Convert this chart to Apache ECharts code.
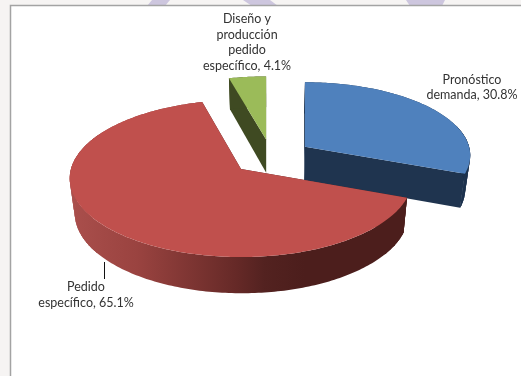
<!DOCTYPE html>
<html>
<head>
<meta charset="utf-8">
<style>html,body{margin:0;padding:0;background:#f6f4f3}#c{width:521px;height:376px}</style>
<script src="https://cdn.jsdelivr.net/npm/echarts@6/dist/echarts.min.js"></script>
</head>
<body>
<div id="c"></div>
<script>
// Shares of the production strategies, in pie order (clockwise from twelve o'clock)
const categories = ['Pronóstico\ndemanda', 'Pedido\nespecífico', 'Diseño y\nproducción\npedido\nespecífico'];
const values = [30.8, 65.1, 4.1];
const topColors = ['#4f81bd', '#c0504d', '#9bbb59'];
const labelAnchors = [[472, 87.5], [86, 295], [247, 42.5]];
const drawOrder = [2, 0, 1];

// Perspective disc: the plane is tilted away from the viewer
const disc = { cx: 241, cy: 169, a: 170, b: 77.4, k: 0.121, explode: 0.24, shrink: 0.975, shrinkAbout: 270 };
const total = values.reduce((s, v) => s + v, 0);
const rad = d => d * Math.PI / 180;

// Start and end angle of every slice, in degrees clockwise from north
let running = 0;
const spans = values.map(v => {
  const s = running;
  running += v / total * 360;
  return [s, running];
});
const mid = i => rad((spans[i][0] + spans[i][1]) / 2);
const pivot = [-disc.explode * Math.sin(mid(1)), -disc.explode * Math.cos(mid(1))];

// A slice keeps its own centre line upright, so only its local offset is foreshortened
function project(ou, ov, du, dv) {
  const v = ov + dv;
  const w = 1 + disc.k * v;
  return [disc.cx + disc.a * (ou + du / w), disc.cy - disc.b * v / w, v];
}

function sliceGeometry(i) {
  const ou = pivot[0] + disc.explode * Math.sin(mid(i));
  const ov = pivot[1] + disc.explode * Math.cos(mid(i));
  const apex = project(ou, ov, 0, 0);
  const rim = [];
  const [s, e] = spans[i];
  const steps = Math.max(8, Math.round(e - s));
  for (let t = 0; t <= steps; t++) {
    const ang = rad(s + (e - s) * t / steps);
    rim.push(project(ou, ov, Math.sin(ang), Math.cos(ang)));
  }
  return { apex, rim };
}
// The underside of the disc sits further from the eye, so it is slightly smaller
const drop = p => [disc.shrinkAbout + (p[0] - disc.shrinkAbout) * disc.shrink, p[1] + 34 - 2.2 * p[2]];
const quad = (a, b) => [a, b, drop(b), drop(a)];

const wallFills = [
  '#1f344f',
  { type: 'linear', x: 70, y: 0, x2: 405, y2: 0, global: true, colorStops: [
    { offset: 0, color: '#aa4f4c' }, { offset: 0.2, color: '#9a4340' },
    { offset: 0.5, color: '#652927' }, { offset: 0.58, color: '#532220' },
    { offset: 0.7, color: '#4c1e1c' }, { offset: 1, color: '#4c1e1c' } ] },
  '#3f4a22'
];

function renderSlice(params, api) {
  const i = drawOrder[params.dataIndex];
  const { apex, rim } = sliceGeometry(i);
  const wall = wallFills[i];
  const flat = typeof wall === 'string' ? wall : '#4c1e1c';
  const children = [
    { type: 'polygon', shape: { points: quad(apex, rim[0]) }, style: { fill: flat } },
    { type: 'polygon', shape: { points: quad(apex, rim[rim.length - 1]) }, style: { fill: flat } },
    { type: 'polygon', shape: { points: rim.concat(rim.slice().reverse().map(drop)) }, style: { fill: wall } }
  ];
  // Near the left and right extremes the wall needs a band per rim segment to keep its silhouette convex
  for (let t = 0; t < rim.length - 1; t++) {
    if (Math.abs(rim[t][2]) < 0.6 && Math.abs(rim[t][0] - disc.cx) > 140) {
      const band = quad(rim[t], rim[t + 1]);
      children.push({ type: 'polygon', shape: { points: band }, style: { fill: wall } });
      children.push({ type: 'polygon', shape: { points: band }, style: { fill: wall } });
    }
  }
  children.push({ type: 'polygon', shape: { points: [apex].concat(rim) }, style: { fill: topColors[i] } });
  return { type: 'group', children };
}

const chart = echarts.init(document.getElementById('c'), null, { renderer: 'canvas' });
const labelStyle = { font: '12.5px Lato, "Open Sans", sans-serif', fill: '#333333', align: 'center', verticalAlign: 'middle', lineHeight: 15.5 };

chart.setOption({
  animation: false,
  backgroundColor: '#f6f4f3',
  graphic: [
    { type: 'polygon', z: 0, shape: { points: [[152, 0], [170, 0], [165, 6], [147, 6]] }, style: { fill: '#cdc6de' } },
    { type: 'polygon', z: 0, shape: { points: [[243, 0], [270, 0], [278, 6], [252, 6]] }, style: { fill: '#cdc6de' } },
    { type: 'polygon', z: 0, shape: { points: [[406, 0], [445, 0], [442, 6], [410, 6]] }, style: { fill: '#cdc6de' } },
    { type: 'rect', z: 1, shape: { x: 10.5, y: 5.5, width: 530, height: 400 }, style: { fill: '#ffffff', stroke: '#a3a3a3', lineWidth: 1.5 } },
    { type: 'line', z: 3, shape: { x1: 104.5, y1: 262, x2: 104.5, y2: 279 }, style: { stroke: '#111', lineWidth: 1 } }
  ].concat(categories.map((c, i) => ({
    type: 'text', z: 4, x: labelAnchors[i][0], y: labelAnchors[i][1],
    style: Object.assign({ text: c + ', ' + values[i] + '%' }, labelStyle)
  }))),
  series: [{
    type: 'custom',
    coordinateSystem: 'none',
    z: 2,
    silent: true,
    renderItem: renderSlice,
    data: drawOrder.map(i => values[i])
  }]
});
</script>
</body>
</html>
